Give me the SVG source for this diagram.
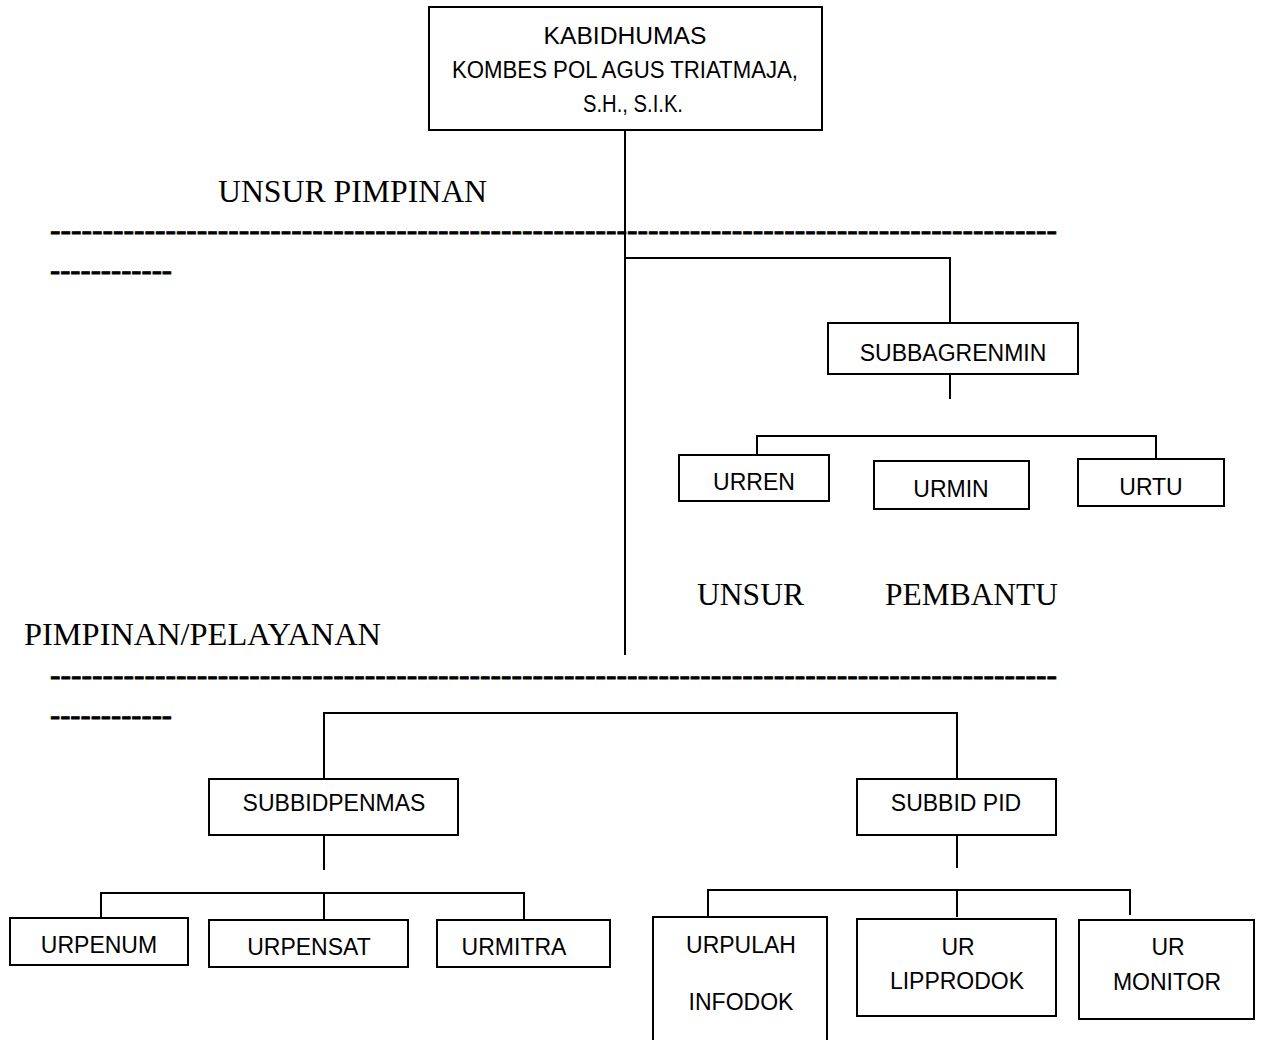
<svg xmlns="http://www.w3.org/2000/svg" width="1263" height="1040" viewBox="0 0 1263 1040">
<style>
.box{fill:#fff;stroke:#000;stroke-width:2}
.ln{fill:none;stroke:#000;stroke-width:2}
.t{font-family:"Liberation Sans",Arial,sans-serif;font-size:23px;fill:#000;text-anchor:middle}
.s{font-family:"Liberation Serif","Times New Roman",serif;font-size:32px;fill:#000}
.d{stroke:#000;stroke-width:0.8}
</style>
<rect width="1263" height="1040" fill="#fff"/>
<g id="labels">
<text class="s" x="218" y="202" textLength="269" lengthAdjust="spacingAndGlyphs">UNSUR PIMPINAN</text>
<text class="s d" x="50" y="240" textLength="1007" lengthAdjust="spacingAndGlyphs">------------------------------------------------------------------------------------------------</text>
<text class="s d" x="50" y="280" textLength="122" lengthAdjust="spacingAndGlyphs">------------</text>
<text class="s" x="697" y="605" textLength="107" lengthAdjust="spacingAndGlyphs">UNSUR</text>
<text class="s" x="885" y="605" textLength="173" lengthAdjust="spacingAndGlyphs">PEMBANTU</text>
<text class="s" x="24" y="645" textLength="357" lengthAdjust="spacingAndGlyphs">PIMPINAN/PELAYANAN</text>
<text class="s d" x="50" y="685" textLength="1007" lengthAdjust="spacingAndGlyphs">------------------------------------------------------------------------------------------------</text>
<text class="s d" x="50" y="725" textLength="122" lengthAdjust="spacingAndGlyphs">------------</text>
</g>
<g id="connectors">
<path class="ln" d="M625 123V655"/>
<path class="ln" d="M625 258H950V323"/>
<path class="ln" d="M950 374V399"/>
<path class="ln" d="M757 455V436H1156V460"/>
<path class="ln" d="M324 779V713H957V779"/>
<path class="ln" d="M324 835V870"/>
<path class="ln" d="M101 918V893H524V920"/>
<path class="ln" d="M324 893V920"/>
<path class="ln" d="M957 835V868"/>
<path class="ln" d="M708 917V890H1130V915"/>
<path class="ln" d="M957 890V917"/>
</g>
<g id="kabidhumas">
<rect class="box" x="429" y="7" width="393" height="123"/>
<text class="t" x="625" y="44" textLength="163" lengthAdjust="spacingAndGlyphs">KABIDHUMAS</text>
<text class="t" x="625" y="78" textLength="346" lengthAdjust="spacingAndGlyphs">KOMBES POL AGUS TRIATMAJA,</text>
<text class="t" x="633" y="112" textLength="100" lengthAdjust="spacingAndGlyphs">S.H., S.I.K.</text>
</g>
<g id="subbagrenmin">
<rect class="box" x="828" y="323" width="250" height="51"/>
<text class="t" x="953" y="361">SUBBAGRENMIN</text>
</g>
<g id="urren">
<rect class="box" x="679" y="455" width="150" height="46"/>
<text class="t" x="754" y="490">URREN</text>
</g>
<g id="urmin">
<rect class="box" x="874" y="461" width="155" height="48"/>
<text class="t" x="951" y="497">URMIN</text>
</g>
<g id="urtu">
<rect class="box" x="1078" y="459" width="146" height="47"/>
<text class="t" x="1151" y="495">URTU</text>
</g>
<g id="subbidpenmas">
<rect class="box" x="209" y="779" width="249" height="56"/>
<text class="t" x="334" y="811">SUBBIDPENMAS</text>
</g>
<g id="subbidpid">
<rect class="box" x="857" y="779" width="199" height="56"/>
<text class="t" x="956" y="811">SUBBID PID</text>
</g>
<g id="urpenum">
<rect class="box" x="10" y="918" width="178" height="47"/>
<text class="t" x="99" y="953">URPENUM</text>
</g>
<g id="urpensat">
<rect class="box" x="209" y="920" width="199" height="47"/>
<text class="t" x="309" y="955">URPENSAT</text>
</g>
<g id="urmitra">
<rect class="box" x="437" y="920" width="173" height="47"/>
<text class="t" x="514" y="955">URMITRA</text>
</g>
<g id="urpulah">
<rect class="box" x="653" y="917" width="174" height="130"/>
<text class="t" x="741" y="953">URPULAH</text>
<text class="t" x="741" y="1010">INFODOK</text>
</g>
<g id="urlipprodok">
<rect class="box" x="857" y="919" width="199" height="97"/>
<text class="t" x="958" y="955">UR</text>
<text class="t" x="957" y="989">LIPPRODOK</text>
</g>
<g id="urmonitor">
<rect class="box" x="1079" y="920" width="175" height="99"/>
<text class="t" x="1168" y="955">UR</text>
<text class="t" x="1167" y="990">MONITOR</text>
</g>
</svg>
